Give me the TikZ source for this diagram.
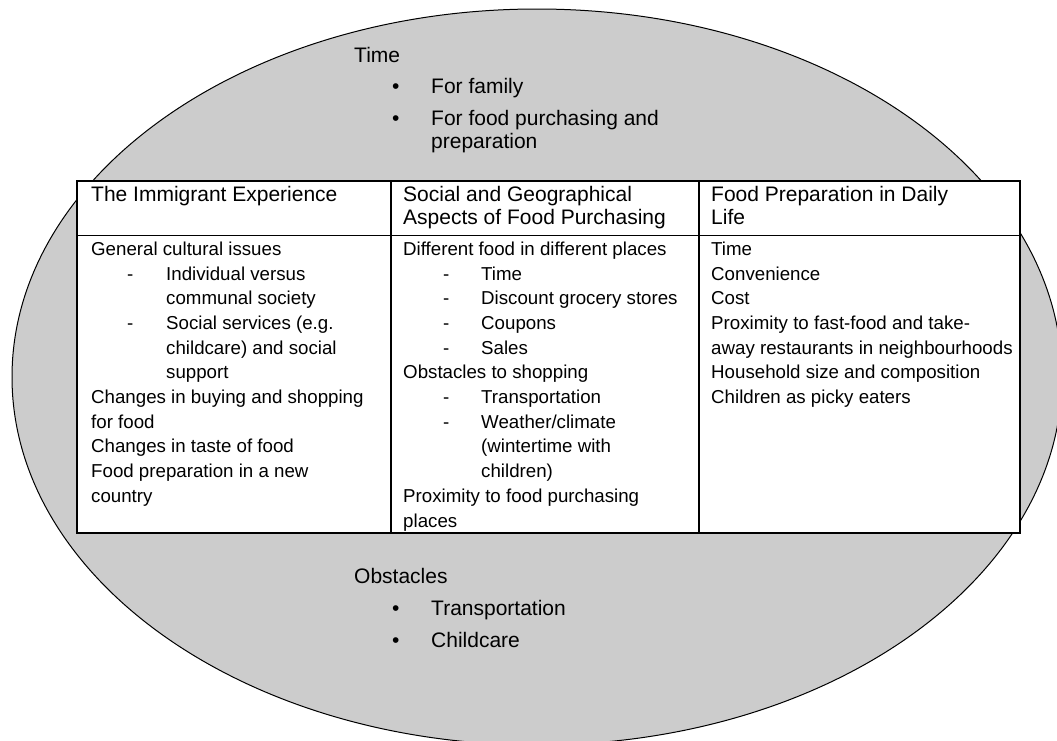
\documentclass[tikz,border=0pt]{standalone}
\usepackage{fontspec}
\setmainfont{Liberation Sans}
\definecolor{ellfill}{HTML}{CCCCCC}
\begin{document}
\begin{tikzpicture}[x=1pt,y=-1pt,
  hd/.style={anchor=base west, inner sep=0pt, font=\fontsize{21}{24}\selectfont},
  bd/.style={anchor=base west, inner sep=0pt, font=\fontsize{18.7}{24.7}\selectfont},
  tline/.style={line width=1.3pt, draw=black}]
\useasboundingbox (0,0) rectangle (1057,740);
\begin{scope}
  \clip (0,0) rectangle (1057,740);
  \draw[fill=ellfill, line width=1pt] (537,377) ellipse [x radius=525, y radius=368];
\end{scope}
% top list
\node[hd] (time) at (354,62) {Time};
\node[hd] (b1) at (392,93) {\textbullet};
\node[hd] (t1) at (431,93) {For family};
\node[hd] (b2) at (392,125) {\textbullet};
\node[hd] (t2a) at (431,125) {For food purchasing and};
\node[hd] (t2b) at (431,148) {preparation};
% table
\draw[tline, fill=white] (77,181) rectangle (1020,533);
\draw[line width=1pt] (77,235) -- (1020,235);
\draw[tline] (391,181) -- (391,533);
\draw[tline] (699,181) -- (699,235);
\draw[line width=2pt] (699,235) -- (699,533);
% headers
\node[hd] (h1) at (91,201) {The Immigrant Experience};
\node[hd] (h2a) at (403,201) {Social and Geographical};
\node[hd] (h2b) at (403,224) {Aspects of Food Purchasing};
\node[hd] (h3a) at (711,201) {Food Preparation in Daily};
\node[hd] (h3b) at (711,224) {Life};
% column 1
\node[bd] (c1a) at (91,255) {General cultural issues};
\node[bd] (c1bd) at (127,280) {-};
\node[bd] (c1b) at (166,280) {Individual versus};
\node[bd] (c1c) at (166,304) {communal society};
\node[bd] (c1dd) at (127,329) {-};
\node[bd] (c1d) at (166,329) {Social services (e.g.};
\node[bd] (c1e) at (166,354) {childcare) and social};
\node[bd] (c1f) at (166,378) {support};
\node[bd] (c1g) at (91,403) {Changes in buying and shopping};
\node[bd] (c1h) at (91,428) {for food};
\node[bd] (c1i) at (91,452) {Changes in taste of food};
\node[bd] (c1j) at (91,477) {Food preparation in a new};
\node[bd] (c1k) at (91,502) {country};
% column 2
\node[bd] (c2a) at (403,255) {Different food in different places};
\node[bd] (c2bd) at (443,280) {-};
\node[bd] (c2b) at (481,280) {Time};
\node[bd] (c2cd) at (443,304) {-};
\node[bd] (c2c) at (481,304) {Discount grocery stores};
\node[bd] (c2dd) at (443,329) {-};
\node[bd] (c2d) at (481,329) {Coupons};
\node[bd] (c2ed) at (443,354) {-};
\node[bd] (c2e) at (481,354) {Sales};
\node[bd] (c2f) at (403,378) {Obstacles to shopping};
\node[bd] (c2gd) at (443,403) {-};
\node[bd] (c2g) at (481,403) {Transportation};
\node[bd] (c2hd) at (443,428) {-};
\node[bd] (c2h) at (481,428) {Weather/climate};
\node[bd] (c2i) at (481,452) {(wintertime with};
\node[bd] (c2j) at (481,477) {children)};
\node[bd] (c2k) at (403,502) {Proximity to food purchasing};
\node[bd] (c2l) at (403,527) {places};
% column 3
\node[bd] (c3a) at (711,255) {Time};
\node[bd] (c3b) at (711,280) {Convenience};
\node[bd] (c3c) at (711,304) {Cost};
\node[bd] (c3d) at (711,329) {Proximity to fast-food and take-};
\node[bd] (c3e) at (711,354) {away restaurants in neighbourhoods};
\node[bd] (c3f) at (711,378) {Household size and composition};
\node[bd] (c3g) at (711,403) {Children as picky eaters};
% bottom list
\node[hd] (obs) at (354,583) {Obstacles};
\node[hd] (ob1b) at (392,615) {\textbullet};
\node[hd] (ob1) at (431,615) {Transportation};
\node[hd] (ob2b) at (392,647) {\textbullet};
\node[hd] (ob2) at (431,647) {Childcare};
\end{tikzpicture}
\end{document}
